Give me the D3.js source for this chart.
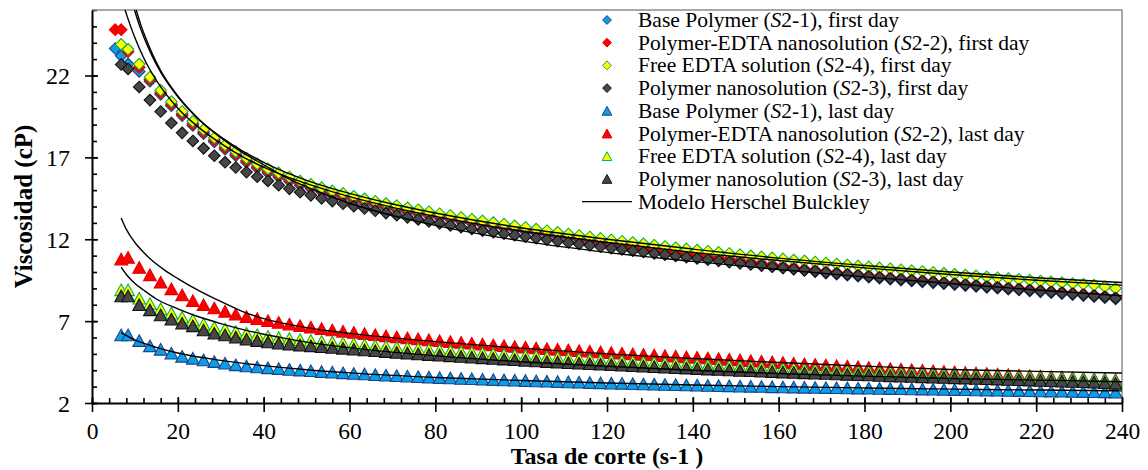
<!DOCTYPE html>
<html lang="es">
<head>
<meta charset="utf-8">
<title>Viscosidad vs tasa de corte</title>
<script src="https://cdn.jsdelivr.net/npm/d3@7"></script>
<style>
  body { margin: 0; background: #fff; }
  svg { display: block; font-family: 'Liberation Serif', 'Times New Roman', serif; }
</style>
</head>
<body>
<div id="chart"></div>
<script>
// shear rate (s-1), shared by every measured series
const shearRate = [
  5.4, 6.8, 8.4, 11, 13.5, 16, 18.5, 21, 23.5, 26,
  28.5, 31, 33.5, 36, 38.5, 41, 43.5, 46, 48.5, 51,
  53.5, 56, 58.5, 61, 63.5, 66, 68.5, 71, 73.5, 76,
  78.5, 81, 83.5, 86, 88.5, 91, 93.5, 96, 98.5, 101,
  103.5, 106, 108.5, 111, 113.5, 116, 118.5, 121, 123.5, 126,
  128.5, 131, 133.5, 136, 138.5, 141, 143.5, 146, 148.5, 151,
  153.5, 156, 158.5, 161, 163.5, 166, 168.5, 171, 173.5, 176,
  178.5, 181, 183.5, 186, 188.5, 191, 193.5, 196, 198.5, 201,
  203.5, 206, 208.5, 211, 213.5, 216, 218.5, 221, 223.5, 226,
  228.5, 231, 233.5, 236, 238.5
]

// first day (diamonds), viscosity in cP
const baseFirst = [
  23.65, 23.2, 22.7, 22.25, 21.65, 20.85, 20.15, 19.55, 18.95, 18.45,
  17.95, 17.5, 17.1, 16.7, 16.35, 16.05, 15.8, 15.55, 15.3, 15.1,
  14.9, 14.7, 14.55, 14.37, 14.22, 14.07, 13.93, 13.8, 13.67, 13.55,
  13.43, 13.31, 13.2, 13.08, 12.97, 12.87, 12.77, 12.67, 12.57, 12.47,
  12.37, 12.27, 12.17, 12.07, 11.98, 11.88, 11.77, 11.67, 11.58, 11.49,
  11.39, 11.3, 11.21, 11.11, 11.03, 10.94, 10.85, 10.77, 10.68, 10.6,
  10.51, 10.43, 10.34, 10.26, 10.18, 10.09, 10.02, 9.93, 9.87, 9.8,
  9.74, 9.68, 9.62, 9.56, 9.5, 9.45, 9.39, 9.34, 9.28, 9.23,
  9.17, 9.12, 9.06, 9.01, 8.95, 8.9, 8.84, 8.79, 8.73, 8.68,
  8.62, 8.56, 8.5, 8.43, 8.35
]
const edtaNanoFirst = [
  24.8, 24.8, 23.45, 22.5, 21.75, 20.95, 20.25, 19.65, 19.05, 18.55,
  18.05, 17.6, 17.2, 16.8, 16.45, 16.15, 15.9, 15.65, 15.4, 15.2,
  15.0, 14.8, 14.65, 14.47, 14.32, 14.17, 14.03, 13.9, 13.77, 13.65,
  13.53, 13.41, 13.3, 13.18, 13.07, 12.97, 12.87, 12.77, 12.67, 12.57,
  12.47, 12.37, 12.27, 12.17, 12.08, 11.98, 11.87, 11.77, 11.68, 11.59,
  11.49, 11.4, 11.31, 11.21, 11.13, 11.04, 10.95, 10.87, 10.78, 10.7,
  10.61, 10.53, 10.44, 10.36, 10.28, 10.19, 10.12, 10.03, 9.97, 9.9,
  9.84, 9.78, 9.72, 9.66, 9.6, 9.55, 9.49, 9.44, 9.38, 9.33,
  9.27, 9.22, 9.16, 9.11, 9.05, 9.0, 8.94, 8.89, 8.83, 8.78,
  8.72, 8.66, 8.6, 8.53, 8.45
]
const freeEdtaFirst = [
  null, 23.9, 23.6, 22.7, 21.9, 21.1, 20.4, 19.8, 19.2, 18.7,
  18.2, 17.75, 17.35, 16.95, 16.6, 16.3, 16.05, 15.8, 15.55, 15.35,
  15.15, 14.95, 14.8, 14.62, 14.47, 14.32, 14.18, 14.05, 13.92, 13.8,
  13.68, 13.56, 13.45, 13.33, 13.22, 13.12, 13.02, 12.92, 12.82, 12.72,
  12.62, 12.52, 12.42, 12.32, 12.23, 12.14, 12.05, 11.96, 11.88, 11.8,
  11.72, 11.64, 11.56, 11.48, 11.41, 11.34, 11.27, 11.2, 11.13, 11.06,
  10.99, 10.92, 10.86, 10.8, 10.73, 10.67, 10.61, 10.55, 10.49, 10.43,
  10.37, 10.31, 10.25, 10.2, 10.14, 10.08, 10.03, 9.97, 9.92, 9.86,
  9.81, 9.76, 9.7, 9.65, 9.6, 9.55, 9.5, 9.45, 9.4, 9.35,
  9.3, 9.25, 9.2, 9.1, 9.0
]
const polyNanoFirst = [
  null, 22.67, 22.4, 21.3, 20.5, 19.8, 19.1, 18.5, 18.0, 17.55,
  17.1, 16.7, 16.38, 16.1, 15.82, 15.56, 15.3, 15.08, 14.87, 14.68,
  14.5, 14.33, 14.17, 14.02, 13.88, 13.74, 13.6, 13.47, 13.34, 13.21,
  13.09, 12.97, 12.85, 12.74, 12.63, 12.53, 12.43, 12.34, 12.25, 12.16,
  12.07, 11.98, 11.89, 11.8, 11.71, 11.63, 11.54, 11.46, 11.38, 11.3,
  11.22, 11.14, 11.06, 10.98, 10.9, 10.83, 10.75, 10.68, 10.6, 10.53,
  10.46, 10.39, 10.32, 10.25, 10.18, 10.11, 10.05, 9.98, 9.92, 9.85,
  9.79, 9.73, 9.67, 9.61, 9.55, 9.5, 9.44, 9.39, 9.33, 9.28,
  9.22, 9.17, 9.11, 9.06, 9.0, 8.95, 8.89, 8.84, 8.78, 8.73,
  8.67, 8.61, 8.55, 8.48, 8.4
]

// last day (triangles)
const baseLast = [
  null, 6.16, 6.16, 5.81, 5.49, 5.28, 5.04, 4.85, 4.73, 4.63,
  4.53, 4.43, 4.33, 4.26, 4.2, 4.15, 4.1, 4.05, 4.01, 3.97,
  3.92, 3.88, 3.84, 3.8, 3.77, 3.73, 3.7, 3.67, 3.64, 3.61,
  3.58, 3.55, 3.53, 3.5, 3.48, 3.45, 3.43, 3.41, 3.39, 3.37,
  3.35, 3.33, 3.31, 3.29, 3.27, 3.25, 3.23, 3.21, 3.2, 3.18,
  3.16, 3.15, 3.13, 3.12, 3.1, 3.09, 3.07, 3.06, 3.05, 3.03,
  3.02, 3.01, 2.99, 2.98, 2.97, 2.96, 2.95, 2.94, 2.93, 2.92,
  2.91, 2.9, 2.89, 2.88, 2.87, 2.86, 2.85, 2.84, 2.83, 2.82,
  2.81, 2.8, 2.79, 2.78, 2.77, 2.76, 2.75, 2.74, 2.73, 2.72,
  2.71, 2.7, 2.69, 2.68, 2.67
]
const edtaNanoLast = [
  null, 10.79, 10.89, 10.28, 9.83, 9.38, 8.97, 8.6, 8.25, 8.0,
  7.8, 7.6, 7.42, 7.28, 7.15, 7.03, 6.92, 6.82, 6.72, 6.63,
  6.54, 6.46, 6.38, 6.31, 6.24, 6.17, 6.1, 6.04, 5.98, 5.92,
  5.86, 5.8, 5.75, 5.7, 5.65, 5.6, 5.55, 5.5, 5.45, 5.41,
  5.36, 5.32, 5.28, 5.24, 5.2, 5.16, 5.12, 5.08, 5.04, 5.0,
  4.97, 4.93, 4.89, 4.86, 4.82, 4.79, 4.75, 4.71, 4.67, 4.63,
  4.59, 4.55, 4.51, 4.47, 4.43, 4.39, 4.36, 4.32, 4.28, 4.25,
  4.21, 4.17, 4.14, 4.1, 4.07, 4.03, 4.0, 3.96, 3.93, 3.9,
  3.86, 3.83, 3.8, 3.76, 3.73, 3.7, 3.67, 3.64, 3.61, 3.58,
  3.55, 3.52, 3.49, 3.46, 3.42
]
const freeEdtaLast = [
  null, 8.91, 8.91, 8.4, 8.07, 7.75, 7.49, 7.24, 7.07, 6.82,
  6.62, 6.51, 6.37, 6.25, 6.16, 6.07, 5.99, 5.94, 5.87, 5.82,
  5.76, 5.71, 5.66, 5.61, 5.55, 5.5, 5.45, 5.4, 5.36, 5.31,
  5.26, 5.22, 5.18, 5.13, 5.09, 5.05, 5.01, 4.96, 4.92, 4.88,
  4.85, 4.81, 4.77, 4.73, 4.7, 4.66, 4.63, 4.6, 4.57, 4.53,
  4.5, 4.47, 4.44, 4.41, 4.37, 4.34, 4.31, 4.29, 4.26, 4.23,
  4.2, 4.17, 4.15, 4.12, 4.1, 4.07, 4.04, 4.02, 3.99, 3.97,
  3.94, 3.92, 3.89, 3.87, 3.85, 3.82, 3.8, 3.78, 3.76, 3.73,
  3.71, 3.69, 3.67, 3.64, 3.62, 3.6, 3.58, 3.56, 3.53, 3.51,
  3.49, 3.47, 3.45, 3.41, 3.36
]
const polyNanoLast = [
  null, 8.54, 8.54, 8.0, 7.69, 7.38, 7.12, 6.87, 6.71, 6.46,
  6.26, 6.16, 6.02, 5.9, 5.81, 5.73, 5.65, 5.6, 5.54, 5.49,
  5.44, 5.39, 5.34, 5.29, 5.24, 5.19, 5.14, 5.09, 5.05, 5.0,
  4.96, 4.92, 4.88, 4.84, 4.8, 4.76, 4.72, 4.68, 4.64, 4.6,
  4.57, 4.53, 4.5, 4.46, 4.43, 4.4, 4.37, 4.34, 4.31, 4.28,
  4.25, 4.22, 4.19, 4.16, 4.13, 4.1, 4.07, 4.05, 4.02, 3.99,
  3.97, 3.94, 3.92, 3.89, 3.87, 3.84, 3.82, 3.8, 3.77, 3.75,
  3.73, 3.71, 3.68, 3.66, 3.64, 3.62, 3.6, 3.58, 3.56, 3.54,
  3.52, 3.5, 3.48, 3.46, 3.44, 3.42, 3.4, 3.38, 3.36, 3.34,
  3.32, 3.3, 3.28, 3.25, 3.2
]

// Herschel-Bulkley model curves
const hbFirstAX = [7.7, 9, 10, 12, 15, 20, 25, 30, 35, 40, 45, 50, 60, 70, 80, 100, 120, 140, 160, 180, 200, 220, 240]
const hbFirstAY = [26, 25.0, 24.3, 23.1, 21.7, 20.0, 18.8, 17.85, 17.05, 16.4, 15.85, 15.4, 14.6, 13.95, 13.4, 12.5, 11.8, 11.2, 10.7, 10.25, 9.85, 9.5, 9.2]
const hbFirstBX = [9.9, 11, 12, 14, 16, 20, 25, 30, 35, 40, 45, 50, 60, 70, 80, 100, 120, 140, 160, 180, 200, 220, 240]
const hbFirstBY = [26, 25.1, 24.4, 23.2, 22.2, 20.7, 19.3, 18.25, 17.4, 16.7, 16.1, 15.6, 14.8, 14.15, 13.6, 12.7, 12.0, 11.4, 10.85, 10.4, 10.0, 9.65, 9.36]
const hbFirstCX = [10.3, 11.5, 12.5, 14, 16, 20, 25, 30, 35, 40, 45, 50, 60, 70, 80, 100, 120, 140, 160, 180, 200, 220, 240]
const hbFirstCY = [26, 25.0, 24.3, 23.35, 22.3, 20.75, 19.3, 18.2, 17.3, 16.55, 15.8, 15.2, 14.2, 13.45, 12.85, 11.9, 11.2, 10.65, 10.15, 9.7, 9.3, 8.9, 8.55]
const hbLastRedX = [6.8, 8, 10, 12, 14, 17, 20, 25, 30, 35, 40, 45, 50, 60, 80, 100, 120, 140, 160, 180, 200, 220, 240]
const hbLastRedY = [13.3, 12.6, 11.8, 11.2, 10.7, 10.1, 9.6, 8.85, 8.2, 7.6, 7.15, 6.85, 6.6, 6.25, 5.75, 5.35, 5.0, 4.72, 4.47, 4.25, 4.05, 3.93, 3.83]
const hbLastGrayX = [6.8, 8, 10, 12, 15, 20, 25, 30, 35, 40, 45, 50, 60, 80, 100, 120, 140, 160, 180, 200, 220, 240]
const hbLastGrayY = [10.3, 9.85, 9.3, 8.9, 8.35, 7.75, 7.25, 6.85, 6.5, 6.2, 5.95, 5.72, 5.38, 4.88, 4.52, 4.24, 4.0, 3.8, 3.64, 3.5, 3.4, 3.3]
const hbLastBlueX = [6.8, 10, 15, 20, 30, 40, 50, 60, 80, 100, 120, 140, 160, 180, 200, 220, 240]
const hbLastBlueY = [6.3, 5.85, 5.4, 5.05, 4.6, 4.28, 4.03, 3.84, 3.56, 3.37, 3.22, 3.1, 3.0, 2.92, 2.85, 2.79, 2.74]

const xTicks = [0, 20, 40, 60, 80, 100, 120, 140, 160, 180, 200, 220, 240]
const yTicks = [2, 7, 12, 17, 22]

const legendLabels = [
  ['Base Polymer (', 'S', '2-1), first day'],
  ['Polymer-EDTA nanosolution (', 'S', '2-2), first day'],
  ['Free EDTA solution (', 'S', '2-4), first day'],
  ['Polymer nanosolution (', 'S', '2-3), first day'],
  ['Base Polymer (', 'S', '2-1), last day'],
  ['Polymer-EDTA nanosolution (', 'S', '2-2), last day'],
  ['Free EDTA solution (', 'S', '2-4), last day'],
  ['Polymer nanosolution (', 'S', '2-3), last day']
]

let margin = {top: 10, right: 26, bottom: 67, left: 92}
let width = 1148 - margin.left - margin.right
let height = 470 - margin.top - margin.bottom

let svg = d3.select('#chart').append('svg')
  .attr('width', 1148)
  .attr('height', 470)
let canvas = svg.append('g')
  .attr('transform', 'translate(' + margin.left + ',' + margin.top + ')')

let scale_x = d3.scaleLinear().domain([0, 240]).range([0, width])
let scale_y = d3.scaleLinear().domain([2, 26]).range([height, 0])

canvas.append('clipPath').attr('id', 'plot-clip')
  .append('rect').attr('x', 0).attr('y', 0).attr('width', width).attr('height', height)

const diamond = (s) => 'M0,' + (-s) + 'L' + s + ',0L0,' + s + 'L' + (-s) + ',0Z'
const triangle = (s) => 'M0,' + (-s) + 'L' + (s * 1.1) + ',' + s + 'L' + (-s * 1.1) + ',' + s + 'Z'

const blue = {fill: '#0aa0e8', stroke: '#1f3f86'}
const red = {fill: '#ff0000', stroke: '#e00000'}
const yellow = {fill: '#ffff00', stroke: '#00b050'}
const gray = {fill: '#474747', stroke: '#111111'}

let series = [
  {values: baseFirst, shape: diamond, c: blue},
  {values: edtaNanoFirst, shape: diamond, c: red},
  {values: freeEdtaFirst, shape: diamond, c: yellow},
  {values: polyNanoFirst, shape: diamond, c: gray},
  {values: baseLast, shape: triangle, c: blue},
  {values: edtaNanoLast, shape: triangle, c: red},
  {values: freeEdtaLast, shape: triangle, c: yellow},
  {values: polyNanoLast, shape: triangle, c: gray}
]

// minor ticks (inside)
canvas.append('g')
  .attr('transform', 'translate(0,' + height + ')')
  .call(d3.axisBottom(scale_x).tickValues(d3.range(0, 241, 4)).tickSize(-5).tickSizeOuter(0).tickFormat(''))
  .call(g => g.select('.domain').remove())
canvas.append('g')
  .call(d3.axisLeft(scale_y).tickValues(d3.range(2, 27, 1)).tickSize(-5).tickSizeOuter(0).tickFormat(''))
  .call(g => g.select('.domain').remove())

// frame: gray top and right
canvas.append('path')
  .attr('d', 'M0,0H' + width + 'V' + height)
  .attr('fill', 'none')
  .attr('stroke', '#8c8c8c')
  .attr('stroke-width', 1.5)

// major axes
let x_axis = canvas.append('g')
  .attr('transform', 'translate(0,' + height + ')')
  .call(d3.axisBottom(scale_x).tickValues(xTicks).tickSize(9).tickSizeOuter(0))
x_axis.selectAll('.tick line').attr('y1', -6)
x_axis.selectAll('.tick text').attr('y', 36).attr('dy', 0)
  .style('font-size', '23.5px').attr('fill', '#000')

let y_axis = canvas.append('g')
  .call(d3.axisLeft(scale_y).tickValues(yTicks).tickSize(7).tickSizeOuter(0))
y_axis.selectAll('.tick line').attr('x1', 6)
y_axis.selectAll('.tick text').attr('x', -22).attr('dy', 8)
  .style('font-size', '24px').attr('fill', '#000')

canvas.selectAll('.domain').attr('stroke-width', 2)
canvas.selectAll('.tick line').attr('stroke-width', 1.6)
svg.selectAll('.tick text').style('font-family', "'Liberation Serif', 'Times New Roman', serif")

// markers
let marks = canvas.append('g').attr('clip-path', 'url(#plot-clip)')
series.forEach((s) => {
  let pts = shearRate.map((x, i) => [x, s.values[i]]).filter((d) => d[1] != null)
  marks.append('g').selectAll('path')
    .data(pts)
    .enter()
    .append('path')
    .attr('transform', (d) => 'translate(' + scale_x(d[0]) + ',' + scale_y(d[1]) + ')')
    .attr('d', s.shape(5.8))
    .attr('fill', s.c.fill)
    .attr('stroke', s.c.stroke)
    .attr('stroke-width', 1.1)
})

// model lines
let model = [
  [hbFirstAX, hbFirstAY], [hbFirstBX, hbFirstBY], [hbFirstCX, hbFirstCY],
  [hbLastRedX, hbLastRedY], [hbLastGrayX, hbLastGrayY], [hbLastBlueX, hbLastBlueY]
]
let line = d3.line()
  .x((d) => scale_x(d[0]))
  .y((d) => scale_y(d[1]))
  .curve(d3.curveMonotoneX)
model.forEach((m) => {
  marks.append('path')
    .datum(m[0].map((x, i) => [x, m[1][i]]))
    .attr('d', line)
    .attr('fill', 'none')
    .attr('stroke', '#000')
    .attr('stroke-width', 1.4)
})

// legend
let legend = svg.append('g').attr('transform', 'translate(607,20)')
let rowStep = 22.7
legendLabels.forEach((lab, i) => {
  let s = series[i]
  let row = legend.append('g').attr('transform', 'translate(0,' + (i * rowStep) + ')')
  row.append('path')
    .attr('d', s.shape(4.4))
    .attr('fill', s.c.fill)
    .attr('stroke', s.c.stroke)
    .attr('stroke-width', 1)
  let t = row.append('text')
    .attr('x', 31)
    .attr('y', 7)
    .style('font-size', '21.5px')
  t.append('tspan').text(lab[0])
  t.append('tspan').style('font-style', 'italic').text(lab[1])
  t.append('tspan').text(lab[2])
})
let lastRow = legend.append('g').attr('transform', 'translate(0,' + (8 * rowStep) + ')')
lastRow.append('line')
  .attr('x1', -25).attr('x2', 25).attr('y1', 0).attr('y2', 0)
  .attr('stroke', '#000').attr('stroke-width', 1.3)
lastRow.append('text')
  .attr('x', 31).attr('y', 7)
  .style('font-size', '21.5px')
  .text('Modelo Herschel Bulckley')

// axis titles
svg.append('text')
  .attr('x', margin.left + width / 2)
  .attr('y', 464)
  .attr('text-anchor', 'middle')
  .style('font-size', '24px')
  .style('font-weight', 'bold')
  .text('Tasa de corte (s-1 )')

svg.append('text')
  .attr('transform', 'translate(32,' + (margin.top + height / 2) + ') rotate(-90)')
  .attr('text-anchor', 'middle')
  .style('font-size', '25px')
  .style('font-weight', 'bold')
  .text('Viscosidad (cP)')
</script>
</body>
</html>
